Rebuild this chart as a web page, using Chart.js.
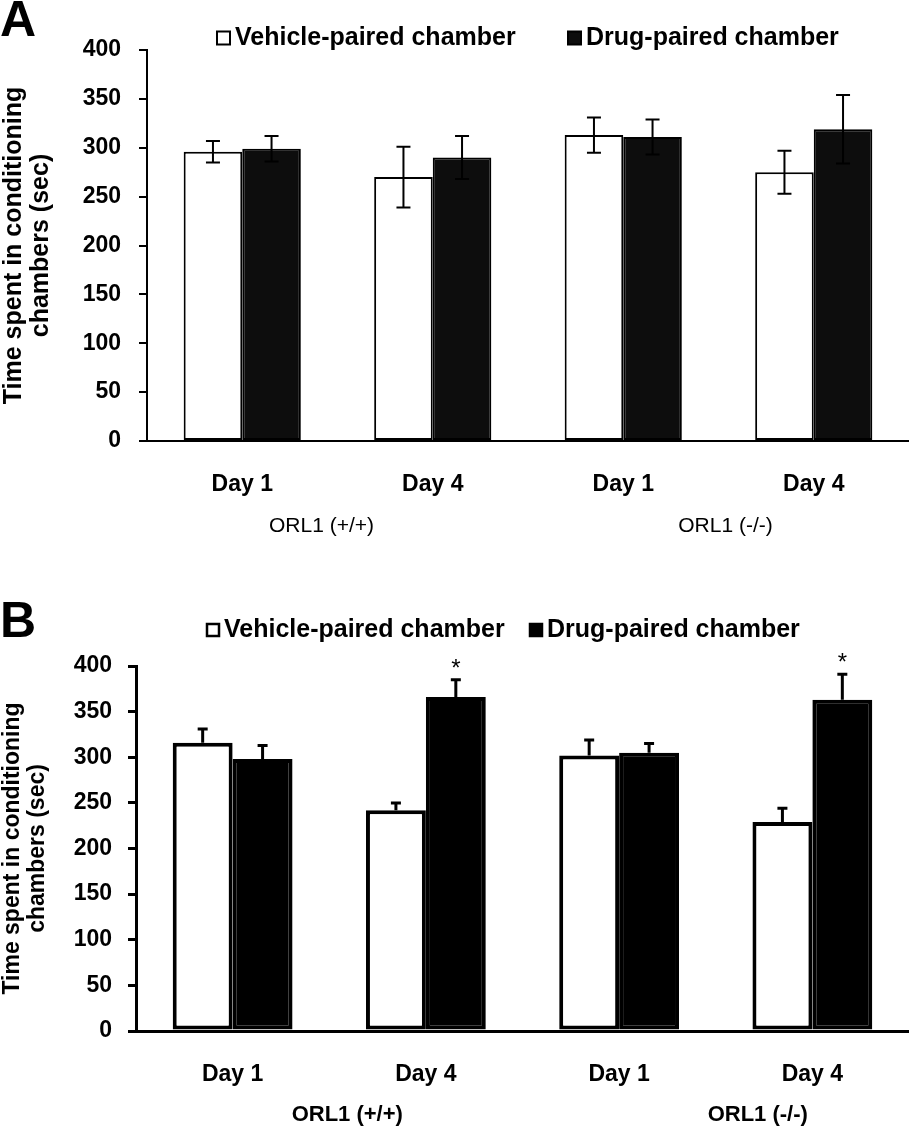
<!DOCTYPE html>
<html>
<head>
<meta charset="utf-8">
<script src="https://cdn.jsdelivr.net/npm/chart.js@4.4.1/dist/chart.umd.min.js"></script>
<style>
  body { margin: 0; background: #fff; width: 909px; height: 1127px; position: relative; overflow: hidden;
         font-family: "Liberation Sans", Arial, sans-serif; }
  canvas { position: absolute; left: 0; }
  .letter { position: absolute; left: 0; font-weight: bold; font-size: 50px; line-height: 1; }
</style>
</head>
<body>
<canvas id="chartA" style="top:0" width="909" height="560"></canvas>
<canvas id="chartB" style="top:580px" width="909" height="547"></canvas>
<div class="letter" style="top:-6px">A</div>
<div class="letter" style="top:595px">B</div>
<script>
// categories
const dayLabels = ['Day 1', 'Day 4', 'Day 1', 'Day 4'];
const groupLabels = ['ORL1 (+/+)', 'ORL1 (-/-)'];
const seriesNames = ['Vehicle-paired chamber', 'Drug-paired chamber'];
const yTitle = ['Time spent in conditioning', 'chambers (sec)'];

// panel A  (mean, sem)
const vehicleA = [296, 270, 313, 275];
const vehicleErrA = [11, 31, 18, 22];
const drugA = [299, 290, 311, 319];
const drugErrA = [13, 22, 18, 35];

// panel B
const vehicleB = [316, 242, 302, 229];
const vehicleErrB = [15, 8, 17, 15];
const drugB = [298, 366, 305, 363];
const drugErrB = [15, 19, 10, 28];
const drugStarsB = ['', '*', '', '*'];

const FONT = '"Liberation Sans", Arial, sans-serif';
Chart.defaults.font.family = FONT;
Chart.defaults.color = '#000';

// error bars, asterisks, legend, group labels
const extras = {
  id: 'extras',
  afterDatasetsDraw(chart, args, o) {
    const ctx = chart.ctx, y = chart.scales.y;
    ctx.save();
    ctx.strokeStyle = '#000';
    ctx.fillStyle = '#000';
    ctx.lineWidth = o.errWidth;
    chart.data.datasets.forEach((ds, i) => {
      chart.getDatasetMeta(i).data.forEach((bar, j) => {
        const v = ds.data[j], e = ds.errors[j];
        const top = y.getPixelForValue(v + e);
        const bot = o.twoSided ? y.getPixelForValue(v - e) : bar.y;
        ctx.beginPath();
        ctx.moveTo(bar.x, bot);
        ctx.lineTo(bar.x, top);
        ctx.moveTo(bar.x - o.cap, top);
        ctx.lineTo(bar.x + o.cap, top);
        if (o.twoSided) {
          ctx.moveTo(bar.x - o.cap, bot);
          ctx.lineTo(bar.x + o.cap, bot);
        }
        ctx.stroke();
        if (ds.stars && ds.stars[j]) {
          ctx.font = '24px ' + FONT;
          ctx.textAlign = 'center';
          ctx.textBaseline = 'alphabetic';
          ctx.fillText(ds.stars[j], bar.x, top - 4);
        }
      });
    });
    ctx.restore();
  },
  afterDraw(chart, args, o) {
    const ctx = chart.ctx, x = chart.scales.x;
    ctx.save();
    // legend
    ctx.font = 'bold 25px ' + FONT;
    ctx.textBaseline = 'middle';
    ctx.textAlign = 'left';
    chart.data.datasets.forEach((ds, i) => {
      const lx = o.legendX[i], s = o.boxSize;
      ctx.fillStyle = ds.backgroundColor;
      ctx.fillRect(lx, o.legendY - s / 2, s, s);
      ctx.strokeStyle = '#000';
      ctx.lineWidth = o.boxBorder;
      ctx.strokeRect(lx, o.legendY - s / 2, s, s);
      ctx.fillStyle = '#000';
      ctx.fillText(ds.label, lx + s + 5, o.legendY);
    });
    // group labels under the day labels
    ctx.font = o.groupFont;
    ctx.textAlign = 'center';
    groupLabels.forEach((g, k) => {
      const cx = x.getPixelForValue(k * 2 + 0.5) + o.groupDx[k];
      ctx.fillText(g, cx, o.groupY);
    });
    ctx.restore();
  }
};

function makeChart(id, p) {
  return new Chart(document.getElementById(id), {
    type: 'bar',
    data: {
      labels: dayLabels,
      datasets: [
        { label: seriesNames[0], data: p.vehicle, errors: p.vehicleErr,
          backgroundColor: '#ffffff', borderColor: '#000', borderWidth: p.barBorder, borderSkipped: false },
        { label: seriesNames[1], data: p.drug, errors: p.drugErr, stars: p.stars,
          backgroundColor: p.drugColor, borderColor: '#000', borderWidth: p.barBorder, borderSkipped: false }
      ]
    },
    options: {
      responsive: false,
      animation: false,
      layout: { padding: { top: p.top, left: 0, right: 0, bottom: 0 } },
      datasets: { bar: { barPercentage: 1.0, categoryPercentage: p.catPct } },
      plugins: {
        legend: { display: false },
        tooltip: { enabled: false },
        extras: p.extras
      },
      scales: {
        x: {
          grid: { display: false, drawTicks: false },
          border: { display: true, color: '#000', width: p.axisWidth },
          ticks: { font: { size: 23, weight: 'bold' }, padding: p.xPad, color: '#000' },
          afterFit: (s) => { s.height = p.xHeight; }
        },
        y: {
          min: 0, max: 400,
          grid: { drawOnChartArea: false, color: '#000', lineWidth: p.axisWidth, tickLength: 8 },
          border: { display: true, color: '#000', width: p.axisWidth },
          ticks: { stepSize: 50, font: { size: 23, weight: 'bold' }, padding: p.yPad, color: '#000' },
          title: { display: true, text: yTitle, font: { size: p.titleSize, weight: 'bold', lineHeight: 1.1 },
                   padding: { top: 0, bottom: 0 }, color: '#000' },
          afterFit: (s) => { s.width = p.axisX; }
        }
      }
    },
    plugins: [extras]
  });
}

makeChart('chartA', {
  vehicle: vehicleA, vehicleErr: vehicleErrA, drug: drugA, drugErr: drugErrA, stars: null,
  drugColor: '#0d0d0d', barBorder: 2, axisWidth: 2, catPct: 0.615,
  top: 50, xHeight: 119, xPad: 30, yPad: 18, axisX: 147, titleSize: 25,
  extras: { errWidth: 2, cap: 7, twoSided: true, legendX: [217, 568], legendY: 38, boxSize: 13, boxBorder: 2,
            groupFont: '21px ' + FONT, groupY: 526, groupDx: [-16, 7] }
});

makeChart('chartB', {
  vehicle: vehicleB, vehicleErr: vehicleErrB, drug: drugB, drugErr: drugErrB, stars: drugStarsB,
  drugColor: '#000000', barBorder: 4, axisWidth: 3, catPct: 0.62,
  top: 86, xHeight: 96, xPad: 30, yPad: 16, axisX: 136, titleSize: 23,
  extras: { errWidth: 3, cap: 5, twoSided: false, legendX: [207, 530], legendY: 50, boxSize: 12, boxBorder: 2.5,
            groupFont: 'bold 22px ' + FONT, groupY: 535, groupDx: [18, 42] }
});
</script>
</body>
</html>
